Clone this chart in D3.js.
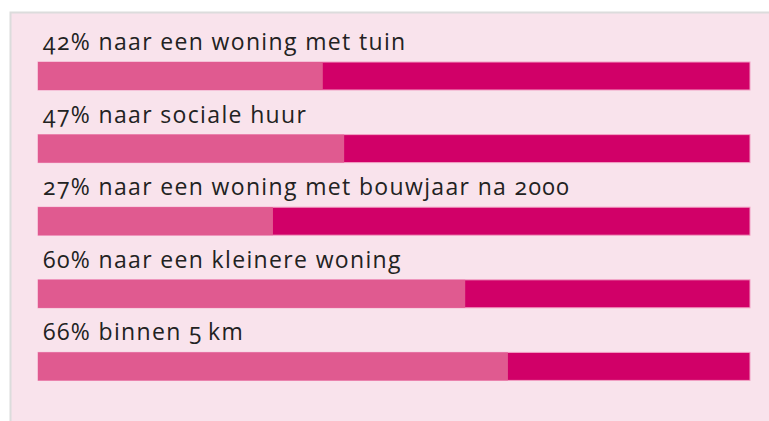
<!DOCTYPE html>
<html lang="nl">
<head>
<meta charset="UTF-8">
<title>Verhuizing</title>
<style>
    body { margin: 0; background: #fff; }
    text { font-family: "Open Sans", sans-serif; font-feature-settings: "onum"; }
</style>
</head>
<body>
<script src="https://d3js.org/d3.v7.min.js"></script>
<script>
    // labels and percentages as printed, bar split as drawn in the picture
    const labels = [
        "naar een woning met tuin",
        "naar sociale huur",
        "naar een woning met bouwjaar na 2000",
        "naar een kleinere woning",
        "binnen 5\u2009km"
    ];
    const percents = [42, 47, 27, 60, 66];
    const shares = [40, 43, 33, 60, 66];

    const W = 769, H = 421;

    const svg = d3.select("body").append("svg")
        .attr("width", W)
        .attr("height", H);

    // panel
    svg.append("rect")
        .attr("x", 10.5).attr("y", 12.5)
        .attr("width", W).attr("height", H)
        .attr("fill", "#f9e3ec")
        .attr("stroke", "#dcdcdc")
        .attr("stroke-width", 2);

    const x = d3.scaleLinear().domain([0, 100]).range([38, 750]);
    const y = d3.scaleBand().domain(d3.range(labels.length)).range([26, 389]);

    const rows = svg.selectAll("g.row")
        .data(labels)
        .enter().append("g")
        .attr("class", "row")
        .attr("transform", (d, i) => `translate(0,${y(i)})`);

    rows.append("text")
        .attr("x", 43)
        .attr("y", 24)
        .attr("font-size", 23)
        .attr("letter-spacing", 1.35)
        .attr("fill", "#222")
        .text((d, i) => percents[i] + "% " + d);

    rows.append("rect")
        .attr("x", x(0))
        .attr("y", 36)
        .attr("width", x(100) - x(0))
        .attr("height", 28)
        .attr("fill", "#d10068")
        .attr("stroke", "#f2a0c4")
        .attr("stroke-width", 1);

    rows.append("rect")
        .attr("x", x(0))
        .attr("y", 36)
        .attr("width", (d, i) => x(shares[i]) - x(0))
        .attr("height", 28)
        .attr("fill", "#e05a90");
</script>
</body>
</html>
